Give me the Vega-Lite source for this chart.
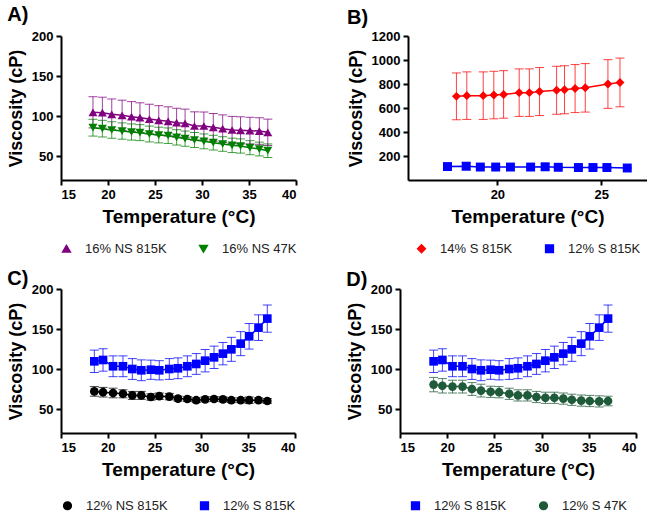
{
"$schema": "https://vega.github.io/schema/vega-lite/v6.json",
"padding": {"left": 7, "top": 5, "right": 0, "bottom": 0},
"background": "white",
"config": {
  "view": {"stroke": null},
  "axis": {"domainColor": "black", "domainWidth": 2, "tickColor": "black", "tickWidth": 2, "tickSize": 5, "labelFont": "Liberation Sans", "labelFontSize": 13, "labelFontWeight": "bold", "labelColor": "black", "titleFont": "Liberation Sans", "titleFontSize": 19, "titleFontWeight": "bold", "titleColor": "black", "grid": false, "labelPadding": 3, "format": "d"},
  "axisY": {"titleFontSize": 18, "titlePadding": 6},
  "axisX": {"titlePadding": 6},
  "legend": {"layout": {"bottom": {"anchor": "middle"}}, "symbolOpacity": 1},
  "title": {"font": "Liberation Sans", "fontSize": 20, "fontWeight": "bold", "color": "black", "anchor": "start", "frame": "bounds", "offset": 2}
},
"data": {"values": [
{"panel":"A","series":"16% NS 815K","t":18.4,"v":104.6,"e":19.5},
{"panel":"A","series":"16% NS 815K","t":19.4,"v":104.2,"e":19.3},
{"panel":"A","series":"16% NS 815K","t":20.4,"v":102.1,"e":19.2},
{"panel":"A","series":"16% NS 815K","t":21.5,"v":100.8,"e":19.0},
{"panel":"A","series":"16% NS 815K","t":22.5,"v":99.2,"e":18.8},
{"panel":"A","series":"16% NS 815K","t":23.4,"v":97.9,"e":18.6},
{"panel":"A","series":"16% NS 815K","t":24.4,"v":96.2,"e":18.5},
{"panel":"A","series":"16% NS 815K","t":25.4,"v":94.6,"e":18.3},
{"panel":"A","series":"16% NS 815K","t":26.4,"v":93.3,"e":18.2},
{"panel":"A","series":"16% NS 815K","t":27.3,"v":91.7,"e":18.0},
{"panel":"A","series":"16% NS 815K","t":28.2,"v":90.8,"e":17.8},
{"panel":"A","series":"16% NS 815K","t":29.2,"v":87.5,"e":17.7},
{"panel":"A","series":"16% NS 815K","t":30.2,"v":87.5,"e":17.5},
{"panel":"A","series":"16% NS 815K","t":31.2,"v":85.8,"e":17.3},
{"panel":"A","series":"16% NS 815K","t":32.2,"v":84.2,"e":17.2},
{"panel":"A","series":"16% NS 815K","t":33.2,"v":82.5,"e":17.0},
{"panel":"A","series":"16% NS 815K","t":34.1,"v":82.1,"e":16.9},
{"panel":"A","series":"16% NS 815K","t":35.1,"v":81.7,"e":16.7},
{"panel":"A","series":"16% NS 815K","t":36.1,"v":81.2,"e":16.6},
{"panel":"A","series":"16% NS 815K","t":37.0,"v":79.6,"e":16.5},
{"panel":"A","series":"16% NS 47K","t":18.4,"v":85.4,"e":10.5},
{"panel":"A","series":"16% NS 47K","t":19.4,"v":84.2,"e":10.4},
{"panel":"A","series":"16% NS 47K","t":20.4,"v":82.5,"e":10.3},
{"panel":"A","series":"16% NS 47K","t":21.5,"v":81.2,"e":10.2},
{"panel":"A","series":"16% NS 47K","t":22.5,"v":80.0,"e":10.1},
{"panel":"A","series":"16% NS 47K","t":23.4,"v":79.2,"e":10.0},
{"panel":"A","series":"16% NS 47K","t":24.4,"v":77.5,"e":9.9},
{"panel":"A","series":"16% NS 47K","t":25.4,"v":76.2,"e":9.8},
{"panel":"A","series":"16% NS 47K","t":26.4,"v":75.4,"e":9.7},
{"panel":"A","series":"16% NS 47K","t":27.3,"v":73.3,"e":9.6},
{"panel":"A","series":"16% NS 47K","t":28.2,"v":71.7,"e":9.5},
{"panel":"A","series":"16% NS 47K","t":29.2,"v":70.0,"e":9.4},
{"panel":"A","series":"16% NS 47K","t":30.2,"v":68.3,"e":9.3},
{"panel":"A","series":"16% NS 47K","t":31.2,"v":66.7,"e":9.2},
{"panel":"A","series":"16% NS 47K","t":32.2,"v":65.0,"e":9.1},
{"panel":"A","series":"16% NS 47K","t":33.2,"v":63.3,"e":9.0},
{"panel":"A","series":"16% NS 47K","t":34.1,"v":62.5,"e":8.9},
{"panel":"A","series":"16% NS 47K","t":35.1,"v":60.4,"e":8.8},
{"panel":"A","series":"16% NS 47K","t":36.1,"v":58.7,"e":8.6},
{"panel":"A","series":"16% NS 47K","t":37.0,"v":56.6,"e":8.5},
{"panel":"B","series":"14% S 815K","t":18.03,"v":697,"e":195},
{"panel":"B","series":"14% S 815K","t":18.53,"v":703,"e":198},
{"panel":"B","series":"14% S 815K","t":19.32,"v":703,"e":198},
{"panel":"B","series":"14% S 815K","t":19.83,"v":708,"e":198},
{"panel":"B","series":"14% S 815K","t":20.3,"v":713,"e":198},
{"panel":"B","series":"14% S 815K","t":21.05,"v":728,"e":198},
{"panel":"B","series":"14% S 815K","t":21.54,"v":728,"e":198},
{"panel":"B","series":"14% S 815K","t":22.03,"v":737,"e":200},
{"panel":"B","series":"14% S 815K","t":22.85,"v":748,"e":200},
{"panel":"B","series":"14% S 815K","t":23.23,"v":752,"e":200},
{"panel":"B","series":"14% S 815K","t":23.74,"v":762,"e":200},
{"panel":"B","series":"14% S 815K","t":24.23,"v":768,"e":202},
{"panel":"B","series":"14% S 815K","t":25.32,"v":800,"e":203},
{"panel":"B","series":"14% S 815K","t":25.9,"v":813,"e":203},
{"panel":"B","series":"12% S 815K","t":17.6,"v":112,"e":8},
{"panel":"B","series":"12% S 815K","t":18.5,"v":115,"e":30},
{"panel":"B","series":"12% S 815K","t":19.18,"v":108,"e":8},
{"panel":"B","series":"12% S 815K","t":19.92,"v":108,"e":8},
{"panel":"B","series":"12% S 815K","t":20.63,"v":108,"e":8},
{"panel":"B","series":"12% S 815K","t":21.6,"v":108,"e":8},
{"panel":"B","series":"12% S 815K","t":22.3,"v":110,"e":25},
{"panel":"B","series":"12% S 815K","t":22.93,"v":106,"e":8},
{"panel":"B","series":"12% S 815K","t":23.9,"v":104,"e":8},
{"panel":"B","series":"12% S 815K","t":24.6,"v":104,"e":8},
{"panel":"B","series":"12% S 815K","t":25.27,"v":104,"e":8},
{"panel":"B","series":"12% S 815K","t":26.25,"v":100,"e":6},
{"panel":"C","series":"12% NS 815K","t":18.56,"v":72,"e":6},
{"panel":"C","series":"12% NS 815K","t":19.49,"v":71,"e":6},
{"panel":"C","series":"12% NS 815K","t":20.56,"v":70,"e":6},
{"panel":"C","series":"12% NS 815K","t":21.62,"v":69,"e":5},
{"panel":"C","series":"12% NS 815K","t":22.62,"v":67,"e":5},
{"panel":"C","series":"12% NS 815K","t":23.58,"v":67,"e":5},
{"panel":"C","series":"12% NS 815K","t":24.6,"v":65,"e":4},
{"panel":"C","series":"12% NS 815K","t":25.5,"v":66,"e":4},
{"panel":"C","series":"12% NS 815K","t":26.57,"v":65.5,"e":4},
{"panel":"C","series":"12% NS 815K","t":27.5,"v":63,"e":3},
{"panel":"C","series":"12% NS 815K","t":28.5,"v":62.5,"e":3},
{"panel":"C","series":"12% NS 815K","t":29.45,"v":61,"e":3},
{"panel":"C","series":"12% NS 815K","t":30.4,"v":62,"e":3},
{"panel":"C","series":"12% NS 815K","t":31.35,"v":62.5,"e":3},
{"panel":"C","series":"12% NS 815K","t":32.3,"v":62,"e":3},
{"panel":"C","series":"12% NS 815K","t":33.2,"v":61,"e":3},
{"panel":"C","series":"12% NS 815K","t":34.2,"v":61,"e":3},
{"panel":"C","series":"12% NS 815K","t":35.1,"v":61,"e":4},
{"panel":"C","series":"12% NS 815K","t":36.1,"v":61,"e":3},
{"panel":"C","series":"12% NS 815K","t":37.04,"v":60,"e":3},
{"panel":"C","series":"12% S 815K","t":18.56,"v":109.6,"e":14},
{"panel":"C","series":"12% S 815K","t":19.49,"v":111.3,"e":14},
{"panel":"C","series":"12% S 815K","t":20.56,"v":103.4,"e":13},
{"panel":"C","series":"12% S 815K","t":21.62,"v":103.4,"e":13},
{"panel":"C","series":"12% S 815K","t":22.62,"v":100,"e":13},
{"panel":"C","series":"12% S 815K","t":23.58,"v":98.4,"e":13},
{"panel":"C","series":"12% S 815K","t":24.6,"v":99.1,"e":12},
{"panel":"C","series":"12% S 815K","t":25.5,"v":98.4,"e":12},
{"panel":"C","series":"12% S 815K","t":26.57,"v":100,"e":13},
{"panel":"C","series":"12% S 815K","t":27.5,"v":100.9,"e":13},
{"panel":"C","series":"12% S 815K","t":28.5,"v":103.4,"e":13},
{"panel":"C","series":"12% S 815K","t":29.45,"v":106.3,"e":13},
{"panel":"C","series":"12% S 815K","t":30.4,"v":110.4,"e":14},
{"panel":"C","series":"12% S 815K","t":31.35,"v":114.6,"e":14},
{"panel":"C","series":"12% S 815K","t":32.3,"v":119.2,"e":14},
{"panel":"C","series":"12% S 815K","t":33.2,"v":124.6,"e":15},
{"panel":"C","series":"12% S 815K","t":34.2,"v":131.7,"e":15},
{"panel":"C","series":"12% S 815K","t":35.1,"v":140.9,"e":16},
{"panel":"C","series":"12% S 815K","t":36.1,"v":151.7,"e":16},
{"panel":"C","series":"12% S 815K","t":37.04,"v":163,"e":17},
{"panel":"D","series":"12% S 815K","t":18.56,"v":109.6,"e":14},
{"panel":"D","series":"12% S 815K","t":19.49,"v":111.3,"e":14},
{"panel":"D","series":"12% S 815K","t":20.56,"v":103.4,"e":13},
{"panel":"D","series":"12% S 815K","t":21.62,"v":103.4,"e":13},
{"panel":"D","series":"12% S 815K","t":22.62,"v":100,"e":13},
{"panel":"D","series":"12% S 815K","t":23.58,"v":98.4,"e":13},
{"panel":"D","series":"12% S 815K","t":24.6,"v":99.1,"e":12},
{"panel":"D","series":"12% S 815K","t":25.5,"v":98.4,"e":12},
{"panel":"D","series":"12% S 815K","t":26.57,"v":100,"e":13},
{"panel":"D","series":"12% S 815K","t":27.5,"v":100.9,"e":13},
{"panel":"D","series":"12% S 815K","t":28.5,"v":103.4,"e":13},
{"panel":"D","series":"12% S 815K","t":29.45,"v":106.3,"e":13},
{"panel":"D","series":"12% S 815K","t":30.4,"v":110.4,"e":14},
{"panel":"D","series":"12% S 815K","t":31.35,"v":114.6,"e":14},
{"panel":"D","series":"12% S 815K","t":32.3,"v":119.2,"e":14},
{"panel":"D","series":"12% S 815K","t":33.2,"v":124.6,"e":15},
{"panel":"D","series":"12% S 815K","t":34.2,"v":131.7,"e":15},
{"panel":"D","series":"12% S 815K","t":35.1,"v":140.9,"e":16},
{"panel":"D","series":"12% S 815K","t":36.1,"v":151.7,"e":16},
{"panel":"D","series":"12% S 815K","t":37.04,"v":163,"e":17},
{"panel":"D","series":"12% S 47K","t":18.56,"v":80.5,"e":9},
{"panel":"D","series":"12% S 47K","t":19.49,"v":79,"e":9},
{"panel":"D","series":"12% S 47K","t":20.56,"v":78,"e":8},
{"panel":"D","series":"12% S 47K","t":21.62,"v":78,"e":8},
{"panel":"D","series":"12% S 47K","t":22.62,"v":75,"e":8},
{"panel":"D","series":"12% S 47K","t":23.58,"v":73,"e":8},
{"panel":"D","series":"12% S 47K","t":24.6,"v":71.5,"e":7},
{"panel":"D","series":"12% S 47K","t":25.5,"v":71,"e":7},
{"panel":"D","series":"12% S 47K","t":26.57,"v":69,"e":7},
{"panel":"D","series":"12% S 47K","t":27.5,"v":67,"e":7},
{"panel":"D","series":"12% S 47K","t":28.5,"v":67,"e":7},
{"panel":"D","series":"12% S 47K","t":29.45,"v":65,"e":7},
{"panel":"D","series":"12% S 47K","t":30.4,"v":64,"e":7},
{"panel":"D","series":"12% S 47K","t":31.35,"v":64,"e":7},
{"panel":"D","series":"12% S 47K","t":32.3,"v":63,"e":7},
{"panel":"D","series":"12% S 47K","t":33.2,"v":61.5,"e":7},
{"panel":"D","series":"12% S 47K","t":34.2,"v":60.5,"e":7},
{"panel":"D","series":"12% S 47K","t":35.1,"v":60,"e":7},
{"panel":"D","series":"12% S 47K","t":36.1,"v":59.5,"e":7},
{"panel":"D","series":"12% S 47K","t":37.04,"v":60,"e":6}
]},
"spacing": 13,
"vconcat": [
 {"hconcat": [
  {"width": 235, "height": 144, "title": {"text": "A)", "offset": 5},
   "transform": [{"filter": "datum.panel === 'A'"}],
   "encoding": {
     "x": {"field": "t", "type": "quantitative", "scale": {"domain": [15, 40], "nice": false}, "axis": {"values": [15,20,25,30,35,40], "title": "Temperature (°C)"}},
     "y": {"field": "v", "type": "quantitative", "scale": {"domain": [20, 200], "nice": false}, "axis": {"values": [50,100,150,200], "title": "Viscosity (cP)"}},
     "color": {"field": "series", "type": "nominal", "sort": ["16% NS 815K", "16% NS 47K"], "scale": {"domain": ["16% NS 815K", "16% NS 47K"], "range": ["#800080", "#008000"]},
       "legend": {"title": null, "orient": "bottom", "direction": "horizontal", "symbolSize": 60, "symbolOpacity": 1, "labelFont": "Liberation Sans", "labelFontSize": 13, "labelColor": "#222", "labelOffset": 12, "columnPadding": 29, "offset": 16}}
   },
   "layer": [
     {"mark": {"type": "errorbar", "ticks": {"size": 9}, "opacity": 0.75}, "encoding": {"yError": {"field": "e"}}},
     {"mark": {"type": "line", "strokeWidth": 1.5}},
     {"mark": {"type": "point", "filled": true, "size": 80, "opacity": 1},
      "encoding": {"shape": {"field": "series", "type": "nominal", "scale": {"domain": ["16% NS 815K", "16% NS 47K"], "range": ["triangle-up", "triangle-down"]}, "legend": null}}}
   ]
  },
  {"width": 239, "height": 144, "title": {"text": "B)", "offset": 2},
   "transform": [{"filter": "datum.panel === 'B'"}],
   "encoding": {
     "x": {"field": "t", "type": "quantitative", "scale": {"domain": [15.7, 27.2], "nice": false}, "axis": {"values": [20,25], "title": "Temperature (°C)"}},
     "y": {"field": "v", "type": "quantitative", "scale": {"domain": [0, 1200], "nice": false}, "axis": {"values": [200,400,600,800,1000,1200], "title": "Viscosity (cP)"}},
     "color": {"field": "series", "type": "nominal", "sort": ["14% S 815K", "12% S 815K"], "scale": {"domain": ["14% S 815K", "12% S 815K"], "range": ["#ff0000", "#0000ff"]},
       "legend": {"title": null, "orient": "bottom", "direction": "horizontal", "symbolSize": 60, "symbolOpacity": 1, "labelFont": "Liberation Sans", "labelFontSize": 13, "labelColor": "#222", "labelOffset": 12, "columnPadding": 29, "offset": 16}}
   },
   "layer": [
     {"mark": {"type": "errorbar", "ticks": {"size": 9}, "opacity": 0.75}, "encoding": {"yError": {"field": "e"}}},
     {"mark": {"type": "line", "strokeWidth": 1.5}},
     {"mark": {"type": "point", "filled": true, "size": 80, "opacity": 1},
      "encoding": {"shape": {"field": "series", "type": "nominal", "scale": {"domain": ["14% S 815K", "12% S 815K"], "range": ["diamond", "square"]}, "legend": null}}}
   ]
  }
 ], "spacing": 50, "resolve": {"scale": {"color": "independent", "shape": "independent", "x": "independent", "y": "independent"}, "legend": {"color": "independent", "shape": "independent"}}},
 {"hconcat": [
  {"width": 234, "height": 144, "title": {"text": "C)", "offset": -6},
   "transform": [{"filter": "datum.panel === 'C'"}],
   "encoding": {
     "x": {"field": "t", "type": "quantitative", "scale": {"domain": [15, 40], "nice": false}, "axis": {"values": [15,20,25,30,35,40], "title": "Temperature (°C)"}},
     "y": {"field": "v", "type": "quantitative", "scale": {"domain": [20, 200], "nice": false}, "axis": {"values": [50,100,150,200], "title": "Viscosity (cP)"}},
     "color": {"field": "series", "type": "nominal", "sort": ["12% NS 815K", "12% S 815K"], "scale": {"domain": ["12% NS 815K", "12% S 815K"], "range": ["#000000", "#0000ff"]},
       "legend": {"title": null, "orient": "bottom", "direction": "horizontal", "symbolSize": 60, "symbolOpacity": 1, "labelFont": "Liberation Sans", "labelFontSize": 13, "labelColor": "#222", "labelOffset": 12, "columnPadding": 29, "offset": 20}}
   },
   "layer": [
     {"mark": {"type": "errorbar", "ticks": {"size": 9}, "opacity": 0.75}, "encoding": {"yError": {"field": "e"}}},
     {"mark": {"type": "line", "strokeWidth": 1.5}},
     {"mark": {"type": "point", "filled": true, "size": 75, "opacity": 1},
      "encoding": {"shape": {"field": "series", "type": "nominal", "scale": {"domain": ["12% NS 815K", "12% S 815K"], "range": ["circle", "square"]}, "legend": null}}}
   ]
  },
  {"width": 236, "height": 144, "title": {"text": "D)", "offset": -7},
   "transform": [{"filter": "datum.panel === 'D'"}],
   "encoding": {
     "x": {"field": "t", "type": "quantitative", "scale": {"domain": [15, 40], "nice": false}, "axis": {"values": [15,20,25,30,35,40], "title": "Temperature (°C)"}},
     "y": {"field": "v", "type": "quantitative", "scale": {"domain": [20, 200], "nice": false}, "axis": {"values": [50,100,150,200], "title": "Viscosity (cP)"}},
     "color": {"field": "series", "type": "nominal", "sort": ["12% S 815K", "12% S 47K"], "scale": {"domain": ["12% S 815K", "12% S 47K"], "range": ["#0000ff", "#1f5a3a"]},
       "legend": {"title": null, "orient": "bottom", "direction": "horizontal", "symbolSize": 60, "symbolOpacity": 1, "labelFont": "Liberation Sans", "labelFontSize": 13, "labelColor": "#222", "labelOffset": 12, "columnPadding": 29, "offset": 20}}
   },
   "layer": [
     {"mark": {"type": "errorbar", "ticks": {"size": 9}, "opacity": 0.75}, "encoding": {"yError": {"field": "e"}}},
     {"mark": {"type": "line", "strokeWidth": 1.5}},
     {"mark": {"type": "point", "filled": true, "size": 75, "opacity": 1},
      "encoding": {"shape": {"field": "series", "type": "nominal", "scale": {"domain": ["12% S 815K", "12% S 47K"], "range": ["square", "circle"]}, "legend": null}}}
   ]
  }
 ], "spacing": 50, "resolve": {"scale": {"color": "independent", "shape": "independent", "x": "independent", "y": "independent"}, "legend": {"color": "independent", "shape": "independent"}}}
],
"resolve": {"scale": {"color": "independent", "shape": "independent", "x": "independent", "y": "independent"}, "legend": {"color": "independent", "shape": "independent"}}
}
